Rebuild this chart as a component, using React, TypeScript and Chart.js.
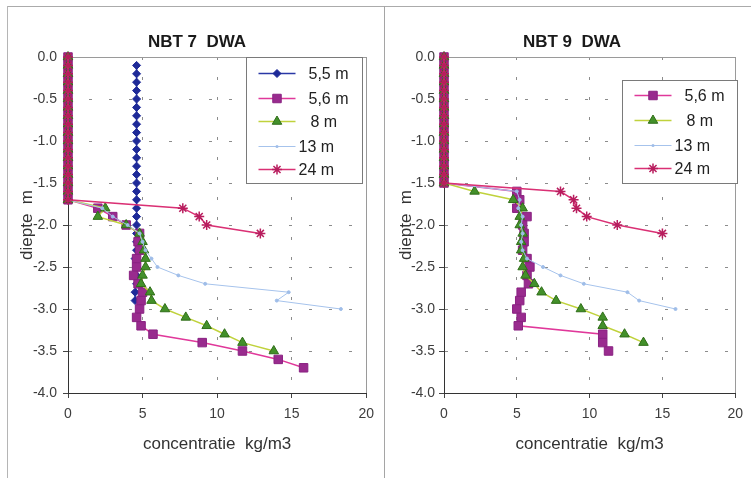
import React, { useEffect, useRef } from 'react';
import { Chart, registerables } from 'chart.js';

Chart.register(...registerables);

const FONT = "'Liberation Sans', Arial, Helvetica, sans-serif";

// ---------- axes ----------
const xTickValues = [0, 5, 10, 15, 20];
const xTickLabels = ['0', '5', '10', '15', '20'];
const yTickValues = [-4, -3.5, -3, -2.5, -2, -1.5, -1, -0.5, 0];
const yTickLabels = ['-4.0', '-3.5', '-3.0', '-2.5', '-2.0', '-1.5', '-1.0', '-0.5', '0.0'];
const xAxisTitle = 'concentratie  kg/m3';
const yAxisTitle = 'diepte  m';

// ---------- NBT 7 DWA ----------
const nbt7Depth55 = [-0.1, -0.2, -0.3, -0.4, -0.5, -0.6, -0.7, -0.8, -0.9, -1.0, -1.1, -1.2, -1.3, -1.4, -1.5, -1.6, -1.7, -1.8, -1.9, -2.0, -2.1, -2.2, -2.3, -2.4, -2.5, -2.6, -2.7, -2.8, -2.9];
const nbt7Conc55 = [4.6, 4.6, 4.6, 4.6, 4.6, 4.6, 4.6, 4.6, 4.6, 4.6, 4.6, 4.6, 4.6, 4.6, 4.6, 4.6, 4.6, 4.6, 4.6, 4.6, 4.6, 4.6, 4.6, 4.5, 4.6, 4.6, 4.6, 4.5, 4.5];

const nbt7Depth56 = [0, -0.1, -0.2, -0.3, -0.4, -0.5, -0.6, -0.7, -0.8, -0.9, -1.0, -1.1, -1.2, -1.3, -1.4, -1.5, -1.6, -1.7, -1.8, -1.9, -2.0, -2.1, -2.2, -2.3, -2.4, -2.5, -2.6, -2.7, -2.8, -2.9, -3.0, -3.1, -3.2, -3.3, -3.4, -3.5, -3.6, -3.7];
const nbt7Conc56 = [0, 0, 0, 0, 0, 0, 0, 0, 0, 0, 0, 0, 0, 0, 0, 0, 0, 0, 2.0, 3.0, 3.9, 4.8, 4.7, 4.8, 4.6, 4.6, 4.4, 4.7, 5.0, 4.9, 4.8, 4.6, 4.9, 5.7, 9.0, 11.7, 14.1, 15.8];

const nbt7Depth8 = [0, -0.1, -0.2, -0.3, -0.4, -0.5, -0.6, -0.7, -0.8, -0.9, -1.0, -1.1, -1.2, -1.3, -1.4, -1.5, -1.6, -1.7, -1.8, -1.9, -2.0, -2.1, -2.2, -2.3, -2.4, -2.5, -2.6, -2.7, -2.8, -2.9, -3.0, -3.1, -3.2, -3.3, -3.4, -3.5];
const nbt7Conc8 = [0, 0, 0, 0, 0, 0, 0, 0, 0, 0, 0, 0, 0, 0, 0, 0, 0, 0, 2.5, 2.0, 3.9, 4.8, 5.0, 5.1, 5.2, 5.2, 5.0, 4.9, 5.5, 5.6, 6.5, 7.9, 9.3, 10.5, 11.7, 13.8];

const nbt7Depth13 = [0, -0.1, -0.2, -0.3, -0.4, -0.5, -0.6, -0.7, -0.8, -0.9, -1.0, -1.1, -1.2, -1.3, -1.4, -1.5, -1.6, -1.7, -1.8, -1.9, -2.0, -2.1, -2.2, -2.3, -2.4, -2.5, -2.6, -2.7, -2.8, -2.9, -3.0];
const nbt7Conc13 = [0, 0, 0, 0, 0, 0, 0, 0, 0, 0, 0, 0, 0, 0, 0, 0, 0, 0, 2.3, 3.0, 4.0, 4.8, 5.0, 5.2, 5.6, 6.0, 7.4, 9.2, 14.8, 14.0, 18.3];

const nbt7Depth24 = [0, -0.1, -0.2, -0.3, -0.4, -0.5, -0.6, -0.7, -0.8, -0.9, -1.0, -1.1, -1.2, -1.3, -1.4, -1.5, -1.6, -1.7, -1.8, -1.9, -2.0, -2.1];
const nbt7Conc24 = [0, 0, 0, 0, 0, 0, 0, 0, 0, 0, 0, 0, 0, 0, 0, 0, 0, 0, 7.7, 8.8, 9.3, 12.9];

// ---------- NBT 9 DWA ----------
const nbt9Depth56 = [0, -0.1, -0.2, -0.3, -0.4, -0.5, -0.6, -0.7, -0.8, -0.9, -1.0, -1.1, -1.2, -1.3, -1.4, -1.5, -1.6, -1.7, -1.8, -1.9, -2.0, -2.1, -2.2, -2.3, -2.4, -2.5, -2.6, -2.7, -2.8, -2.9, -3.0, -3.1, -3.2, -3.3, -3.4, -3.5];
const nbt9Conc56 = [0, 0, 0, 0, 0, 0, 0, 0, 0, 0, 0, 0, 0, 0, 0, 0, 5.0, 5.2, 5.0, 5.7, 5.4, 5.5, 5.5, 5.4, 5.7, 5.9, 5.7, 5.8, 5.3, 5.2, 5.0, 5.3, 5.1, 10.9, 10.9, 11.3];

const nbt9Depth8 = [0, -0.1, -0.2, -0.3, -0.4, -0.5, -0.6, -0.7, -0.8, -0.9, -1.0, -1.1, -1.2, -1.3, -1.4, -1.5, -1.6, -1.7, -1.8, -1.9, -2.0, -2.1, -2.2, -2.3, -2.4, -2.5, -2.6, -2.7, -2.8, -2.9, -3.0, -3.1, -3.2, -3.3, -3.4];
const nbt9Conc8 = [0, 0, 0, 0, 0, 0, 0, 0, 0, 0, 0, 0, 0, 0, 0, 0, 2.1, 4.75, 5.4, 5.2, 5.2, 5.4, 5.3, 5.3, 5.5, 5.4, 5.6, 6.2, 6.7, 7.7, 9.4, 10.9, 10.9, 12.4, 13.7];

const nbt9Depth13 = [0, -0.1, -0.2, -0.3, -0.4, -0.5, -0.6, -0.7, -0.8, -0.9, -1.0, -1.1, -1.2, -1.3, -1.4, -1.5, -1.6, -1.7, -1.8, -1.9, -2.0, -2.1, -2.2, -2.3, -2.4, -2.5, -2.6, -2.7, -2.8, -2.9, -3.0];
const nbt9Conc13 = [0, 0, 0, 0, 0, 0, 0, 0, 0, 0, 0, 0, 0, 0, 0, 0, 5.0, 5.2, 5.1, 5.4, 5.3, 5.4, 5.3, 5.4, 5.7, 6.8, 8.0, 9.6, 12.6, 13.4, 15.9];

const nbt9Depth24 = [0, -0.1, -0.2, -0.3, -0.4, -0.5, -0.6, -0.7, -0.8, -0.9, -1.0, -1.1, -1.2, -1.3, -1.4, -1.5, -1.6, -1.7, -1.8, -1.9, -2.0, -2.1];
const nbt9Conc24 = [0, 0, 0, 0, 0, 0, 0, 0, 0, 0, 0, 0, 0, 0, 0, 0, 8.0, 8.9, 9.1, 9.8, 11.9, 15.0];

// ---------- styles ----------
type Style = {
  line: string; fill: string; stroke: string; point: string; r: number; lw: number; pbw: number; order: number; indent: number;
};
const STYLES: Record<string, Style> = {
  '5,5 m': { line: '#2a38a6', fill: '#1e2a98', stroke: '#1e2a98', point: 'rectRot', r: 4, lw: 1.5, pbw: 1, order: 5, indent: 10 },
  '5,6 m': { line: '#e0389a', fill: '#992b8e', stroke: '#8a2282', point: 'rect', r: 6, lw: 1.5, pbw: 1, order: 4, indent: 10 },
  '8 m': { line: '#c0d23c', fill: '#43902a', stroke: '#2f6e18', point: 'triangle', r: 5.5, lw: 1.5, pbw: 1, order: 3, indent: 12 },
  '13 m': { line: '#a6c3ec', fill: '#9fbde8', stroke: '#9fbde8', point: 'circle', r: 1.5, lw: 1, pbw: 1, order: 2, indent: 0 },
  '24 m': { line: '#da3074', fill: '#b81d5e', stroke: '#b81d5e', point: 'star', r: 5, lw: 1.5, pbw: 1.5, order: 1, indent: 0 },
};

type SeriesDef = { name: string; depth: number[]; conc: number[] };

const nbt7Series: SeriesDef[] = [
  { name: '5,5 m', depth: nbt7Depth55, conc: nbt7Conc55 },
  { name: '5,6 m', depth: nbt7Depth56, conc: nbt7Conc56 },
  { name: '8 m', depth: nbt7Depth8, conc: nbt7Conc8 },
  { name: '13 m', depth: nbt7Depth13, conc: nbt7Conc13 },
  { name: '24 m', depth: nbt7Depth24, conc: nbt7Conc24 },
];
const nbt9Series: SeriesDef[] = [
  { name: '5,6 m', depth: nbt9Depth56, conc: nbt9Conc56 },
  { name: '8 m', depth: nbt9Depth8, conc: nbt9Conc8 },
  { name: '13 m', depth: nbt9Depth13, conc: nbt9Conc13 },
  { name: '24 m', depth: nbt9Depth24, conc: nbt9Conc24 },
];

type PanelCfg = {
  title: string; series: SeriesDef[]; canvasLeft: number; width: number; height: number;
  padRight: number; yWidth: number; yTickPad: number; yTitlePad: number; titleX: number; titleY: number;
  legend: { dx: number; dy: number; w: number; h: number; rows: number[] };
};

const PANEL_LEFT: PanelCfg = {
  title: 'NBT 7  DWA', series: nbt7Series, canvasLeft: 8, width: 374, height: 462,
  padRight: 14, yWidth: 60, yTickPad: 6, yTitlePad: 9.5, titleX: 189, titleY: 34,
  legend: { dx: 178, dy: 0, w: 116, h: 126, rows: [16, 41, 64, 89, 112] },
};
const PANEL_RIGHT: PanelCfg = {
  title: 'NBT 9  DWA', series: nbt9Series, canvasLeft: 392, width: 359, height: 462,
  padRight: 8, yWidth: 52, yTickPad: 4, yTitlePad: 4, titleX: 180, titleY: 34,
  legend: { dx: 178, dy: 23, w: 115, h: 103, rows: [15, 40, 65, 88] },
};

function drawMarker(ctx: CanvasRenderingContext2D, s: Style, x: number, y: number) {
  const r = s.r;
  ctx.save();
  ctx.fillStyle = s.fill;
  ctx.strokeStyle = s.stroke;
  ctx.lineWidth = s.pbw;
  ctx.beginPath();
  if (s.point === 'rectRot') {
    ctx.moveTo(x, y - r); ctx.lineTo(x + r, y); ctx.lineTo(x, y + r); ctx.lineTo(x - r, y); ctx.closePath();
    ctx.fill(); ctx.stroke();
  } else if (s.point === 'rect') {
    const h = r * Math.SQRT1_2;
    ctx.rect(x - h, y - h, 2 * h, 2 * h);
    ctx.fill(); ctx.stroke();
  } else if (s.point === 'triangle') {
    ctx.moveTo(x, y - r);
    ctx.lineTo(x + 0.866 * r, y + 0.5 * r);
    ctx.lineTo(x - 0.866 * r, y + 0.5 * r);
    ctx.closePath();
    ctx.fill(); ctx.stroke();
  } else if (s.point === 'star') {
    const d = r * Math.SQRT1_2;
    ctx.moveTo(x - r, y); ctx.lineTo(x + r, y);
    ctx.moveTo(x, y - r); ctx.lineTo(x, y + r);
    ctx.moveTo(x - d, y - d); ctx.lineTo(x + d, y + d);
    ctx.moveTo(x - d, y + d); ctx.lineTo(x + d, y - d);
    ctx.stroke();
  } else {
    ctx.arc(x, y, r, 0, Math.PI * 2);
    ctx.fill();
  }
  ctx.restore();
}

function makeDecorPlugin(cfg: PanelCfg) {
  return {
    id: 'panelDecor',
    beforeDatasetsDraw(chart: any) {
      const { ctx, chartArea: a } = chart;
      ctx.save();
      ctx.strokeStyle = '#9a9a9a';
      ctx.lineWidth = 1;
      ctx.beginPath();
      ctx.moveTo(a.left, Math.round(a.top) + 0.5);
      ctx.lineTo(Math.round(a.right) + 0.5, Math.round(a.top) + 0.5);
      ctx.lineTo(Math.round(a.right) + 0.5, a.bottom);
      ctx.stroke();
      ctx.restore();
    },
    afterDraw(chart: any) {
      const { ctx, chartArea: a } = chart;
      ctx.save();
      // title
      ctx.fillStyle = '#1a1a1a';
      ctx.font = `bold 17px ${FONT}`;
      ctx.textAlign = 'center';
      ctx.textBaseline = 'middle';
      ctx.fillText(cfg.title, cfg.titleX, cfg.titleY);
      // legend box
      const L = cfg.legend;
      const bx = Math.round(a.left + L.dx) + 0.5;
      const by = Math.round(a.top + L.dy) + 0.5;
      ctx.fillStyle = '#ffffff';
      ctx.fillRect(bx, by, L.w, L.h);
      ctx.strokeStyle = '#7a7a7a';
      ctx.lineWidth = 1;
      ctx.strokeRect(bx, by, L.w, L.h);
      ctx.font = `16px ${FONT}`;
      ctx.textAlign = 'left';
      cfg.series.forEach((s, i) => {
        const st = STYLES[s.name];
        const y = by + L.rows[i];
        ctx.strokeStyle = st.line;
        ctx.lineWidth = st.lw;
        ctx.beginPath();
        ctx.moveTo(bx + 12, y);
        ctx.lineTo(bx + 49, y);
        ctx.stroke();
        drawMarker(ctx, st, bx + 30.5, y);
        ctx.fillStyle = '#222222';
        ctx.fillText(s.name, bx + 52 + st.indent, y + 1);
      });
      ctx.restore();
    },
  };
}

function buildConfig(cfg: PanelCfg): any {
  const datasets = cfg.series.map((s) => {
    const st = STYLES[s.name];
    return {
      label: s.name,
      data: s.conc.map((c, i) => ({ x: c, y: s.depth[i] })),
      showLine: true,
      clip: 10,
      borderColor: st.line,
      borderWidth: st.lw,
      backgroundColor: st.fill,
      pointStyle: st.point,
      pointRadius: st.r,
      pointBackgroundColor: st.fill,
      pointBorderColor: st.stroke,
      pointBorderWidth: st.pbw,
      pointHoverRadius: st.r,
      tension: 0,
      order: st.order,
    };
  });
  return {
    type: 'scatter',
    data: { datasets },
    plugins: [makeDecorPlugin(cfg)],
    options: {
      animation: false,
      responsive: false,
      maintainAspectRatio: false,
      devicePixelRatio: 1,
      events: [],
      layout: { padding: { left: 0, right: cfg.padRight, top: 49, bottom: 0 } },
      plugins: {
        legend: { display: false },
        title: { display: false },
        tooltip: { enabled: false },
      },
      scales: {
        x: {
          type: 'linear',
          position: 'bottom',
          min: 0,
          max: 20,
          afterBuildTicks: (s: any) => { s.ticks = xTickValues.map((v) => ({ value: v })); },
          afterFit: (s: any) => { s.height = 77; },
          ticks: {
            callback: (_v: any, i: number) => xTickLabels[i],
            font: { family: FONT, size: 14 },
            color: '#3d3d3d',
            padding: 8,
            maxRotation: 0,
            autoSkip: false,
          },
          grid: { color: '#8c8c8c', lineWidth: 1, tickLength: 5, tickColor: '#444444' },
          border: { display: true, color: '#333333', width: 1, dash: [3, 17] },
          title: {
            display: true,
            text: xAxisTitle,
            font: { family: FONT, size: 17, lineHeight: '20px' },
            color: '#333333',
            padding: { top: 0, bottom: 16 },
          },
        },
        y: {
          type: 'linear',
          position: 'left',
          min: -4,
          max: 0,
          afterBuildTicks: (s: any) => { s.ticks = yTickValues.map((v) => ({ value: v })); },
          afterFit: (s: any) => { s.width = cfg.yWidth; },
          ticks: {
            callback: (_v: any, i: number) => yTickLabels[i],
            font: { family: FONT, size: 14 },
            color: '#3d3d3d',
            padding: cfg.yTickPad,
            autoSkip: false,
          },
          grid: { color: '#8c8c8c', lineWidth: 1, tickLength: 5, tickColor: '#444444' },
          border: { display: true, color: '#333333', width: 1, dash: [3, 17] },
          title: {
            display: true,
            text: yAxisTitle,
            font: { family: FONT, size: 17, lineHeight: '20px' },
            color: '#333333',
            padding: { top: cfg.yTitlePad, bottom: 0 },
          },
        },
      },
    },
  };
}

function Panel({ cfg }: { cfg: PanelCfg }) {
  const ref = useRef<HTMLCanvasElement>(null);
  useEffect(() => {
    if (!ref.current) return;
    const chart = new Chart(ref.current, buildConfig(cfg));
    return () => chart.destroy();
  }, [cfg]);
  return (
    <canvas
      ref={ref}
      width={cfg.width}
      height={cfg.height}
      style={{ position: 'absolute', left: cfg.canvasLeft, top: 8, width: cfg.width, height: cfg.height }}
    />
  );
}

export default function App() {
  return (
    <div style={{ position: 'absolute', left: 0, top: 0, width: 751, height: 478, background: '#ffffff', overflow: 'hidden' }}>
      <div style={{ position: 'absolute', left: 7, top: 6, width: 744, height: 1, background: '#ababab' }} />
      <div style={{ position: 'absolute', left: 7, top: 6, width: 1, height: 472, background: '#b5b5b5' }} />
      <div style={{ position: 'absolute', left: 384, top: 6, width: 1, height: 472, background: '#a5a5a5' }} />
      <Panel cfg={PANEL_LEFT} />
      <Panel cfg={PANEL_RIGHT} />
    </div>
  );
}
